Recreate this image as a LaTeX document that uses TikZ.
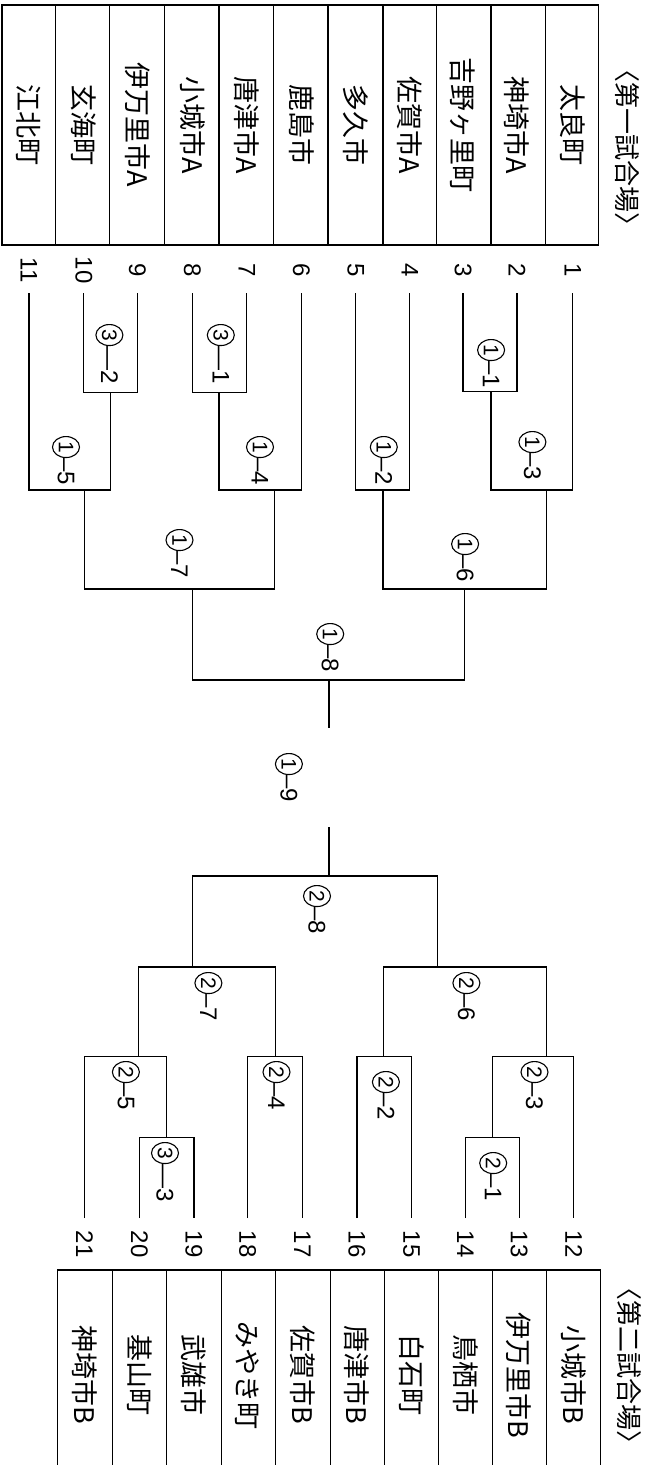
\documentclass[tikz,border=0pt]{standalone}
\usepackage{fontspec}
\setmainfont{Noto Sans CJK JP}
\newfontfamily\lat{Liberation Sans}
\usetikzlibrary{shapes.geometric}
\begin{document}
\begin{tikzpicture}[x=1pt,y=-1pt,
  ln/.style={line width=1.3pt},
  tbl/.style={line width=1.3pt},
  nm/.style={rotate=-90,inner sep=0pt,font=\fontsize{27}{27}\selectfont},
  venue/.style={rotate=-90,inner sep=0pt,font=\fontsize{26}{26}\selectfont},
  num/.style={rotate=-90,inner sep=0pt,font=\lat\fontsize{24}{24}\selectfont},
  circ/.style={ellipse,draw,line width=1.1pt,inner sep=0pt,minimum width=21pt,minimum height=27pt,rotate=-90,font=\lat\fontsize{21}{21}\selectfont},
  suf/.style={rotate=-90,inner sep=0pt,font=\lat\fontsize{24}{24}\selectfont}]
\useasboundingbox (0,0) rectangle (646,1465);
\newcommand\mlab[5]{%
  \node[circ,anchor=west] (#1c) at (#2,#3) {#4};
  \node[suf,anchor=west] (#1s) at (#1c.east) {#5};}
% ---- top table ----
\draw[tbl] (2,5) rectangle (598.4,245);
\foreach \x in {55.7,109.4,164.3,219.1,273.6,328.1,383,436.6,491.1,545.6}
  \draw[tbl] (\x,5) -- (\x,245);
\foreach \i/\x/\t in {1/572.8/太良町,2/517.1/神埼市A,3/463.1/吉野ヶ里町,4/409.8/佐賀市A,5/355.8/多久市,6/301.3/鹿島市,7/246.8/唐津市A,8/192.3/小城市A,9/137.4/伊万里市A,10/83.8/玄海町,11/28.9/江北町}{
  \node[nm] (p\i) at (\x,125) {\t};
  \node[num] (n\i) at (\x,270) {\i};
  \coordinate (t\i) at (\x,293);
}
\node[venue] (v1) at (627,147) {〈第一試合場〉};
% ---- bottom table ----
\draw[tbl] (57.8,1465) -- (57.8,1270) -- (600.5,1270) -- (600.5,1465);
\foreach \x in {112.3,166.3,221.6,275.7,330.2,384.6,438.7,492.4,546.8}
  \draw[tbl] (\x,1270) -- (\x,1465);
\foreach \i/\x/\t in {12/573.7/小城市B,13/519.2/伊万里市B,14/465.5/鳥栖市,15/411.5/白石町,16/357/唐津市B,17/302.5/佐賀市B,18/247.6/みやき町,19/194/武雄市,20/139.5/基山町,21/84.6/神埼市B}{
  \node[nm] (p\i) at (\x,1375) {\t};
  \node[num] (n\i) at (\x,1244) {\i};
  \coordinate (b\i) at (\x,1218);
}
\node[venue] (v2) at (629,1365) {〈第二試合場〉};
% ---- match junctions ----
\coordinate (m11) at (491.1,391.7);
\coordinate (m13) at (546.8,490);
\coordinate (m12) at (383,490);
\coordinate (m31) at (219.1,392.7);
\coordinate (m14) at (274.5,490);
\coordinate (m32) at (110.6,392.7);
\coordinate (m15) at (84.6,490);
\coordinate (m16) at (464.3,589);
\coordinate (m17) at (192.7,589);
\coordinate (m18) at (328.9,680);
\coordinate (f1) at (328.9,728);
\coordinate (f2) at (328.9,827);
\coordinate (m28) at (328.9,876);
\coordinate (m27) at (192.7,967);
\coordinate (m26) at (437.5,967);
\coordinate (m25) at (138.3,1056.5);
\coordinate (m24) at (275.3,1056.5);
\coordinate (m22) at (383.8,1056.5);
\coordinate (m23) at (546.8,1056.5);
\coordinate (m33) at (166.3,1137.5);
\coordinate (m21) at (492.4,1137.5);
% ---- first venue bracket ----
\draw[ln] (t2) |- (m11) -| (t3);
\draw[ln] (t1) |- (m13) -| (m11);
\draw[ln] (t4) |- (m12) -| (t5);
\draw[ln] (t7) |- (m31) -| (t8);
\draw[ln] (t6) |- (m14) -| (m31);
\draw[ln] (t9) |- (m32) -| (t10);
\draw[ln] (t11) |- (m15) -| (m32);
\draw[ln] (m13) |- (m16) -| (m12);
\draw[ln] (m14) |- (m17) -| (m15);
\draw[ln] (m16) |- (m18) -| (m17);
\draw[ln] (m18) -- (f1);
% ---- second venue bracket ----
\draw[ln] (f2) -- (m28);
\draw[ln] (m27) |- (m28) -| (m26);
\draw[ln] (m25) |- (m27) -| (m24);
\draw[ln] (m22) |- (m26) -| (m23);
\draw[ln] (b21) |- (m25) -| (m33);
\draw[ln] (b20) |- (m33) -| (b19);
\draw[ln] (b18) |- (m24) -| (b17);
\draw[ln] (b16) |- (m22) -| (b15);
\draw[ln] (m21) |- (m23) -| (b12);
\draw[ln] (b14) |- (m21) -| (b13);
% ---- match labels ----
\mlab{L11}{491.1}{339}{1}{–1}
\mlab{L13}{532.4}{431}{1}{–3}
\mlab{L12}{383.8}{436}{1}{–2}
\mlab{L14}{260}{436}{1}{–4}
\mlab{L15}{66}{436}{1}{–5}
\mlab{L31}{220.8}{324}{3}{—1}
\mlab{L32}{109.4}{324}{3}{—2}
\mlab{L16}{465.1}{533}{1}{–6}
\mlab{L17}{179.5}{529}{1}{–7}
\mlab{L18}{330.2}{623}{1}{–8}
\mlab{L19}{288.9}{753}{1}{–9}
\mlab{L28}{317}{885}{2}{–8}
\mlab{L27}{208.4}{972}{2}{–7}
\mlab{L26}{466.4}{972}{2}{–6}
\mlab{L25}{125.9}{1061}{2}{–5}
\mlab{L24}{276.5}{1061}{2}{–4}
\mlab{L22}{385.9}{1071}{2}{–2}
\mlab{L23}{534.5}{1061}{2}{–3}
\mlab{L33}{165}{1142}{3}{—3}
\mlab{L21}{493.2}{1152}{2}{–1}
\end{tikzpicture}
\end{document}
